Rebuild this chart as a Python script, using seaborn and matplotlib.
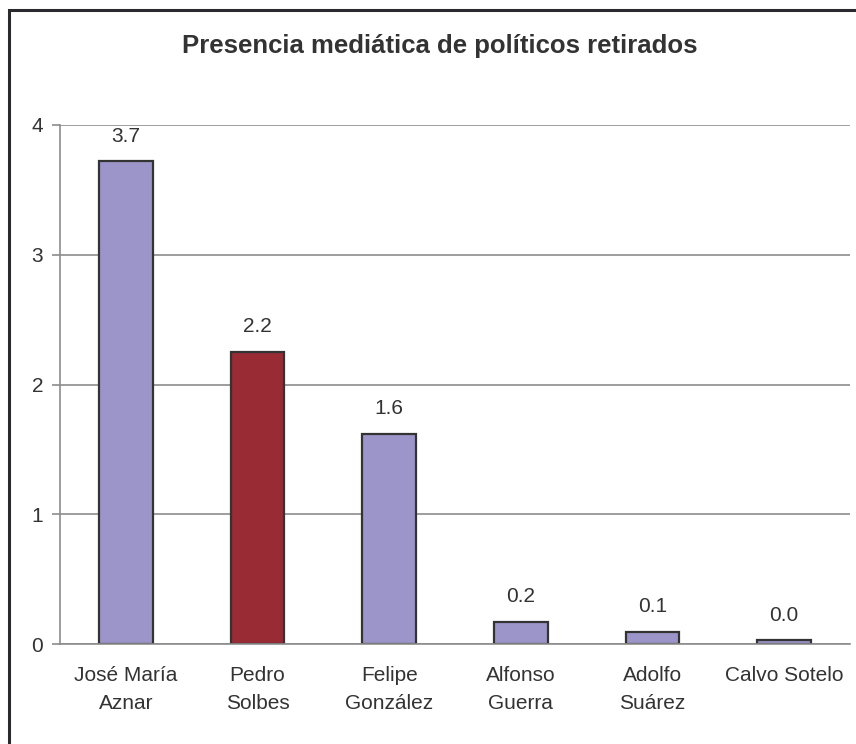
import matplotlib
matplotlib.use("Agg")
import matplotlib.pyplot as plt
import matplotlib.patches as mpatches
import seaborn as sns
import pandas as pd

# datos del gráfico
politicos = ["José María\nAznar", "Pedro\nSolbes", "Felipe\nGonzález",
             "Alfonso\nGuerra", "Adolfo\nSuárez", "Calvo Sotelo"]
presencia = [3.72, 2.25, 1.62, 0.17, 0.095, 0.03]
etiquetas = ["3.7", "2.2", "1.6", "0.2", "0.1", "0.0"]
colores = ["#9B95C9", "#982B33", "#9B95C9", "#9B95C9", "#9B95C9", "#9B95C9"]

TXT = "#333333"

sns.set_style("white")
plt.rcParams["font.family"] = ["Liberation Sans", "DejaVu Sans"]

df = pd.DataFrame({"Politico": politicos, "Presencia": presencia})

fig = plt.figure(figsize=(8.56, 7.44), dpi=100)
ax = fig.add_axes([60 / 856, 100 / 744, 790 / 856, 519 / 744])

sns.barplot(data=df, x="Politico", y="Presencia", hue="Politico",
            palette=colores, legend=False, width=0.41,
            edgecolor="#333333", linewidth=1.6, saturation=1, ax=ax)

for i, (v, lab) in enumerate(zip(presencia, etiquetas)):
    ax.text(i, v + 0.12, lab, ha="center", va="bottom", fontsize=15, color=TXT)

ax.set_xlim(-0.5, len(politicos) - 0.5)
ax.set_ylim(0, 4)
ax.set_yticks([0, 1, 2, 3, 4])
ax.set_yticklabels(["0", "1", "2", "3", "4"], fontsize=15, color=TXT)
ax.yaxis.grid(True, color="#8c8c8c", linewidth=1.2)
ax.set_axisbelow(True)

ax.set_xticks(range(len(politicos)))
ax.set_xticklabels(politicos, fontsize=15, color=TXT, linespacing=1.6, va="top")
ax.set_xticks([x - 0.5 for x in range(len(politicos) + 1)], minor=True)
ax.tick_params(axis="x", which="major", length=0, pad=16)
ax.tick_params(axis="x", which="minor", length=6, width=1.2, color="#8c8c8c", direction="out")
ax.tick_params(axis="y", length=6, width=1.2, color="#8c8c8c", direction="out", pad=6, left=True)

for s in ["top", "right"]:
    ax.spines[s].set_visible(False)
for s in ["left", "bottom"]:
    ax.spines[s].set_color("#8c8c8c")
    ax.spines[s].set_linewidth(1.2)

ax.set_xlabel("")
ax.set_ylabel("")

fig.text(440 / 856, 1 - 46 / 744, "Presencia mediática de políticos retirados",
         ha="center", va="center", fontsize=18.5, fontweight="bold", color=TXT)

# marco exterior (recortado a la derecha y abajo)
fig.patches.append(mpatches.Rectangle((8.5 / 856, -0.05), 1.1, 1 - 9.5 / 744 + 0.05,
                                      transform=fig.transFigure, fill=False,
                                      edgecolor="#2a2a2e", linewidth=2.2))

fig.savefig("out.png", dpi=100)
